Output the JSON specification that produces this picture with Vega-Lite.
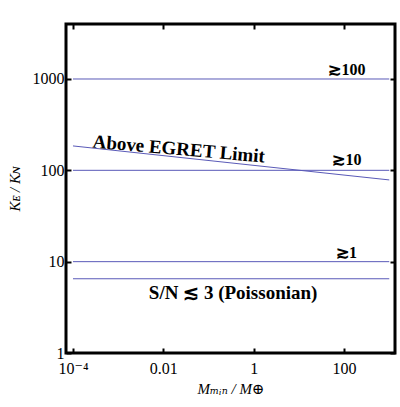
{
  "$schema": "https://vega.github.io/schema/vega-lite/v6.json",
  "autosize": "none",
  "width": 329,
  "height": 329,
  "padding": {"left": 66, "top": 24, "right": 5, "bottom": 54},
  "background": "white",
  "config": {
    "view": {"stroke": "black", "strokeWidth": 3},
    "font": "Liberation Serif, Times New Roman, DejaVu Serif, serif",
    "text": {"font": "Liberation Serif, Times New Roman, DejaVu Serif, serif"},
    "axis": {"domain": false, "grid": false, "tickColor": "black", "tickWidth": 2, "tickSize": -5, "labelOverlap": false, "labelBound": false, "labelFont": "Liberation Serif, Times New Roman, DejaVu Serif, serif", "labelFontSize": 16, "labelColor": "black", "titleFont": "Liberation Serif, Times New Roman, DejaVu Serif, serif", "titleFontSize": 15, "titleFontStyle": "italic", "titleFontWeight": "normal", "titleColor": "black"}
  },
  "datasets": {
    "lines": [
      {"series": "100", "x": 0.0001, "y": 1000}, {"series": "100", "x": 1000, "y": 1000},
      {"series": "10", "x": 0.0001, "y": 100}, {"series": "10", "x": 1000, "y": 100},
      {"series": "1", "x": 0.0001, "y": 10}, {"series": "1", "x": 1000, "y": 10},
      {"series": "sn", "x": 0.0001, "y": 6.5}, {"series": "sn", "x": 1000, "y": 6.5},
      {"series": "egret", "x": 0.0001, "y": 185}, {"series": "egret", "x": 1000, "y": 78.5}
    ],
    "labels": [
      {"text": "≳100", "x": 116, "y": 1110},
      {"text": "≳10", "x": 116, "y": 115},
      {"text": "≳1", "x": 113, "y": 11}
    ],
    "big": [
      {"text": "S/N ≲ 3 (Poissonian)", "x": 0.35, "y": 3.9}
    ],
    "rot": [
      {"text": "Above EGRET Limit", "x": 0.022, "y": 171}
    ]
  },
  "layer": [
    {
      "data": {"name": "lines"},
      "mark": {"type": "line", "color": "#5a5ab8", "strokeWidth": 1},
      "encoding": {
        "x": {"field": "x", "type": "quantitative", "scale": {"type": "log", "domain": [0.00007, 1340], "nice": false},
          "axis": {"values": [0.0001, 0.01, 1, 100], "title": "Mₘᵢₙ / M⊕", "titlePadding": 5, "labelPadding": 12,
            "labelExpr": "datum.value == 0.0001 ? '10⁻⁴' : datum.value == 0.01 ? '0.01' : format(datum.value, 'd')"}},
        "y": {"field": "y", "type": "quantitative", "scale": {"type": "log", "domain": [1, 4000], "nice": false},
          "axis": {"values": [1, 10, 100, 1000], "title": "Kᴇ / Kɴ", "titlePadding": 10, "labelPadding": 7, "format": "d"}},
        "detail": {"field": "series"}
      }
    },
    {
      "data": {"name": "labels"},
      "mark": {"type": "text", "fontWeight": "bold", "fontSize": 16, "baseline": "alphabetic", "align": "center", "color": "black"},
      "encoding": {
        "x": {"field": "x", "type": "quantitative", "scale": {"type": "log"}, "axis": {"orient": "top", "values": [0.0001, 0.01, 1, 100], "labels": false, "title": null}},
        "y": {"field": "y", "type": "quantitative", "scale": {"type": "log"}, "axis": {"orient": "right", "values": [1, 10, 100, 1000], "labels": false, "title": null}},
        "text": {"field": "text"}
      }
    },
    {
      "data": {"name": "big"},
      "mark": {"type": "text", "fontWeight": "bold", "fontSize": 19, "baseline": "alphabetic", "align": "center", "color": "black"},
      "encoding": {
        "x": {"field": "x", "type": "quantitative", "scale": {"type": "log"}, "axis": null},
        "y": {"field": "y", "type": "quantitative", "scale": {"type": "log"}, "axis": null},
        "text": {"field": "text"}
      }
    },
    {
      "data": {"name": "rot"},
      "mark": {"type": "text", "fontWeight": "bold", "fontSize": 19, "baseline": "middle", "align": "center", "color": "black", "angle": 5},
      "encoding": {
        "x": {"field": "x", "type": "quantitative", "scale": {"type": "log"}, "axis": null},
        "y": {"field": "y", "type": "quantitative", "scale": {"type": "log"}, "axis": null},
        "text": {"field": "text"}
      }
    }
  ],
  "resolve": {"axis": {"x": "independent", "y": "independent"}}
}
